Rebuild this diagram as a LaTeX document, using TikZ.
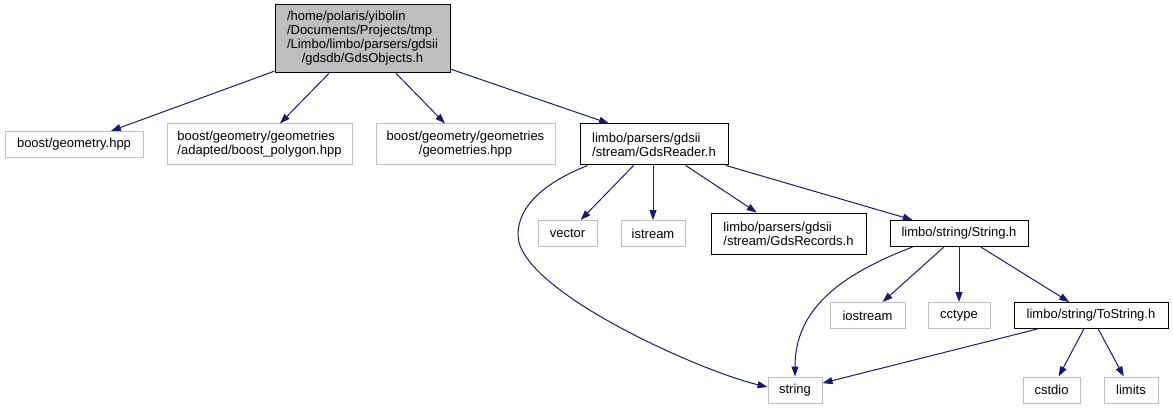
\documentclass[tikz,border=0pt]{standalone}
\usepackage{fontspec}
\setmainfont{Liberation Sans}
\usetikzlibrary{arrows.meta,positioning}
\definecolor{edgeblue}{HTML}{191970}
\definecolor{extgray}{HTML}{BFBFBF}
\tikzset{
  file box/.style = {draw, line width=1pt, inner sep=0pt, minimum height=26pt,
                     font=\fontsize{13}{14}\selectfont, align=left, },
  ext box/.style  = {file box, draw=extgray},
  own box/.style  = {file box, draw=black},
  root box/.style = {file box, draw=black, fill=extgray},
  arr/.style      = {-{Triangle[length=10pt,width=7pt]}, line width=1pt, edgeblue},
}
\begin{document}
\begin{tikzpicture}[x=1pt, y=-1pt]
  \useasboundingbox (0,0) rectangle (1173,409);

  \node[root box, minimum width=175pt, minimum height=68pt] (objects) at (362.5,39)
    {\begin{tabular}{@{}l@{}}/home/polaris/yibolin\\/Documents/Projects/tmp\\
     /Limbo/limbo/parsers/gdsii\\\multicolumn{1}{@{}c@{}}{/gdsdb/GdsObjects.h}\end{tabular}};

  \node[ext box, minimum width=138pt] (geom)   at (74,144.5)    {boost/geometry.hpp};
  \node[ext box, minimum width=185pt, minimum height=41pt] (poly)  at (259.5,144.5)
    {boost/geometry/geometries\\/adapted/boost\_polygon.hpp};
  \node[ext box, minimum width=179pt, minimum height=41pt, align=center] (geoms) at (465.5,144.5)
    {boost/geometry/geometries\\/geometries.hpp};
  \node[own box, minimum width=148pt, minimum height=41pt] (reader) at (654,144.5)
    {limbo/parsers/gdsii\\/stream/GdsReader.h};

  \node[ext box, minimum width=59pt]  (vector)  at (567.5,233.5) {vector};
  \node[ext box, minimum width=64pt]  (istream) at (653,233.5)   {istream};
  \node[own box, minimum width=155pt, minimum height=41pt] (records) at (788.5,233.5)
    {limbo/parsers/gdsii\\/stream/GdsRecords.h};
  \node[own box, minimum width=138pt] (strh)    at (959,233.5)   {limbo/string/String.h};

  \node[ext box, minimum width=75pt]  (iostream) at (867.5,315.5) {iostream};
  \node[ext box, minimum width=62pt]  (cctype)   at (959,315.5)   {cctype};
  \node[own box, minimum width=154pt] (tostr)    at (1091,315.5)  {limbo/string/ToString.h};

  \node[ext box, minimum width=54pt]  (string) at (795,390)    {string};
  \node[ext box, minimum width=57pt]  (cstdio) at (1051.5,390) {cstdio};
  \node[ext box, minimum width=54pt]  (limits) at (1131,390)   {limits};

  \coordinate (bend) at (518,235);

  % includes of GdsObjects.h
  \draw[arr] (objects) -- (geom);
  \draw[arr] (objects) -- (poly);
  \draw[arr] (objects) -- (geoms);
  \draw[arr] (objects) -- ([xshift=-45pt]reader.north);

  % includes of GdsReader.h
  \draw[arr] ([xshift=8pt]reader.south west) .. controls +(-50,20) and +(0,-25) .. (bend)
             .. controls +(0,55) and +(-68,-16) .. ([yshift=3pt]string.west);
  \draw[arr] (reader) -- (vector);
  \draw[arr] (reader.south -| istream.north) -- (istream);
  \draw[arr] (reader) -- (records);
  \draw[arr] (reader) -- (strh);

  % includes of String.h
  \draw[arr] ([xshift=23pt]strh.south west) .. controls +(-73,28) and +(0,-67) .. (string.north);
  \draw[arr] (strh) -- (iostream);
  \draw[arr] (strh) -- (cctype);
  \draw[arr] (strh) -- (tostr);

  % includes of ToString.h
  \draw[arr] (tostr) -- (string);
  \draw[arr] (tostr) -- (cstdio);
  \draw[arr] (tostr) -- (limits);
\end{tikzpicture}
\end{document}
